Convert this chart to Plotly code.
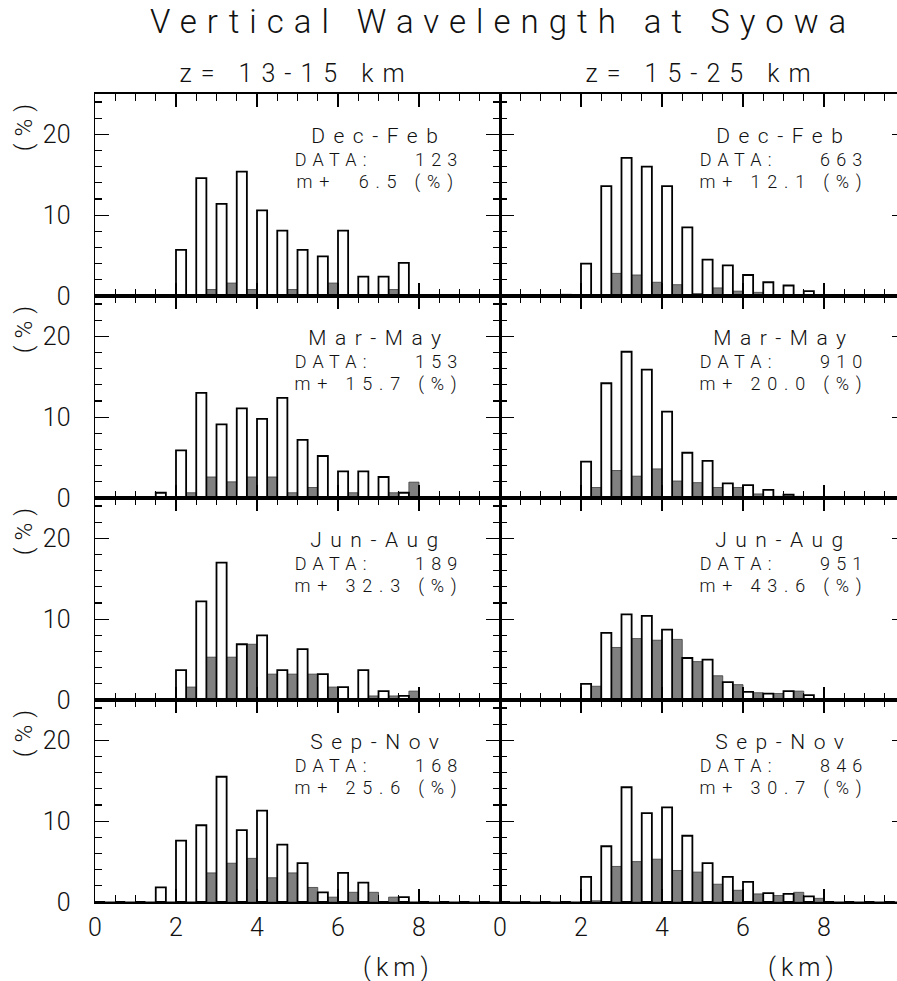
import json
import plotly.graph_objects as go

# ---------------- data ----------------
bin_starts = [0.5 * k for k in range(20)]          # km, bin width 0.5 km
seasons = ["Dec-Feb", "Mar-May", "Jun-Aug", "Sep-Nov"]
column_titles = ["z= 13-15 km", "z= 15-25 km"]
x_tick_vals = [0, 2, 4, 6, 8]
y_tick_vals = [0, 10, 20]

low_counts = [123, 153, 189, 168]
low_mplus_pct = [6.5, 15.7, 32.3, 25.6]
high_counts = [663, 910, 951, 846]
high_mplus_pct = [12.1, 20.0, 43.6, 30.7]

# percentage of profiles per 0.5-km bin (white = all, gray = m+)
lo_djf_all = [0, 0, 0, 0, 5.7, 14.6, 11.4, 15.4, 10.6, 8.1, 5.7, 4.9, 8.1, 2.4, 2.4, 4.1, 0, 0, 0, 0]
lo_djf_mp = [0, 0, 0, 0, 0, 0.8, 1.6, 0.8, 0, 0.8, 0, 1.6, 0, 0, 0.8, 0, 0, 0, 0, 0]
hi_djf_all = [0, 0, 0, 0.15, 4.0, 13.6, 17.1, 16.0, 13.6, 8.5, 4.5, 3.8, 2.6, 1.7, 1.3, 0.6, 0, 0, 0, 0]
hi_djf_mp = [0, 0, 0, 0, 0.15, 2.8, 2.6, 1.7, 1.4, 0.3, 1.0, 0.6, 0.45, 0.1, 0, 0, 0, 0, 0, 0]
lo_mam_all = [0, 0, 0, 0.65, 5.9, 13.0, 9.1, 11.1, 9.8, 12.4, 7.2, 5.2, 3.3, 3.3, 2.6, 0.65, 0, 0, 0, 0]
lo_mam_mp = [0, 0, 0, 0, 0.65, 2.6, 2.0, 2.6, 2.6, 0.65, 1.3, 0, 0.65, 0, 0.65, 1.96, 0, 0, 0, 0]
hi_mam_all = [0, 0, 0, 0.1, 4.5, 14.2, 18.1, 15.9, 10.7, 5.6, 4.6, 1.8, 1.6, 1.0, 0.4, 0.1, 0, 0, 0, 0]
hi_mam_mp = [0, 0, 0, 0, 1.3, 3.4, 2.7, 3.6, 2.1, 1.9, 1.3, 1.3, 0.5, 0.2, 0.2, 0.1, 0, 0, 0, 0]
lo_jja_all = [0, 0, 0, 0, 3.7, 12.2, 17.0, 6.9, 8.0, 3.7, 6.3, 3.2, 1.6, 3.7, 1.1, 0.5, 0, 0, 0, 0]
lo_jja_mp = [0, 0, 0, 0, 1.6, 5.3, 5.3, 6.9, 3.2, 3.2, 3.2, 1.6, 0, 0.5, 0.5, 1.1, 0, 0, 0, 0]
hi_jja_all = [0, 0, 0, 0.1, 2.0, 8.3, 10.6, 10.4, 8.7, 5.2, 5.0, 2.2, 1.0, 0.8, 1.1, 0.6, 0, 0, 0, 0]
hi_jja_mp = [0, 0, 0, 0, 1.7, 6.5, 7.6, 7.4, 7.5, 4.75, 3.0, 1.9, 0.9, 0.8, 1.1, 0.15, 0, 0, 0, 0]
lo_son_all = [0, 0, 0, 1.8, 7.6, 9.5, 15.5, 8.9, 11.3, 7.1, 4.8, 1.2, 3.6, 2.4, 0, 0.6, 0, 0, 0, 0]
lo_son_mp = [0, 0, 0, 0, 0, 3.6, 4.8, 5.4, 3.0, 3.6, 1.8, 0.6, 1.2, 1.2, 0.6, 0, 0, 0, 0, 0]
hi_son_all = [0, 0, 0, 0, 3.1, 6.9, 14.2, 11.0, 11.7, 8.2, 4.8, 3.1, 2.5, 1.1, 1.0, 0.7, 0, 0, 0, 0]
hi_son_mp = [0, 0, 0, 0, 0.15, 4.4, 5.0, 5.3, 3.9, 3.7, 2.2, 1.45, 1.0, 0.8, 1.2, 0.45, 0, 0, 0, 0]

low_all = [lo_djf_all, lo_mam_all, lo_jja_all, lo_son_all]
low_mp = [lo_djf_mp, lo_mam_mp, lo_jja_mp, lo_son_mp]
high_all = [hi_djf_all, hi_mam_all, hi_jja_all, hi_son_all]
high_mp = [hi_djf_mp, hi_mam_mp, hi_jja_mp, hi_son_mp]

# ---------------- layout geometry ----------------
W, H = 897, 981
ML, MT, BOT = 95, 94, 902          # plot area (page pixels, body margin removed)
MB = H - BOT
MR = 0
PW = W - ML - MR
PH = H - MT - MB
left_px = 405.0                       # 0..10 km in the left column
x_split = left_px / PW
right_max = (PW - left_px) / (left_px / 10.0)


def px_x(xabs):
    return (xabs - ML) / PW


def px_y(yabs):
    return (BOT - yabs) / PH


FONT = "Roboto"
FW = 300
TXT = "#111111"

fig = go.Figure()
layout = dict(
    width=W, height=H, autosize=False,
    margin=dict(l=ML, r=MR, t=MT, b=MB),
    paper_bgcolor="white", plot_bgcolor="white",
    barmode="overlay", showlegend=False,
    font=dict(family=FONT, size=25, color=TXT, weight=FW),
)
annotations = []
spacing = []


def add_ann(sp, **kw):
    annotations.append(kw)
    spacing.append(sp)


for r in range(4):
    for c in range(2):
        n = r * 2 + c + 1
        xa = "x" if n == 1 else f"x{n}"
        ya = "y" if n == 1 else f"y{n}"
        allv = (low_all if c == 0 else high_all)[r]
        mpv = (low_mp if c == 0 else high_mp)[r]
        fig.add_trace(go.Bar(
            x=bin_starts, y=mpv, width=0.25, offset=0.25,
            marker=dict(color="#808080", line=dict(color="#3c3c3c", width=0.8)),
            xaxis=xa, yaxis=ya, hoverinfo="skip"))
        fig.add_trace(go.Bar(
            x=bin_starts, y=allv, width=0.25, offset=0.0,
            marker=dict(color="white", line=dict(color="black", width=1.8)),
            xaxis=xa, yaxis=ya, hoverinfo="skip"))

        xdom = [0, x_split] if c == 0 else [x_split, 1.0]
        ydom = [(3 - r) / 4.0, (4 - r) / 4.0]
        layout[f"xaxis{'' if n == 1 else n}"] = dict(
            domain=xdom, anchor=ya,
            range=[0, 10] if c == 0 else [0, right_max],
            tickmode="array", tickvals=x_tick_vals,
            ticktext=[str(v) for v in x_tick_vals],
            ticks="inside", ticklen=13, tickwidth=1.2, tickcolor="black",
            minor=dict(tickmode="linear", tick0=0, dtick=0.5, ticks="inside",
                       ticklen=7, tickwidth=1.2, tickcolor="black"),
            showline=True, linewidth=2, linecolor="black", mirror="ticks",
            showgrid=False, zeroline=False,
            showticklabels=(r == 3), ticklabelstandoff=2,
            tickfont=dict(family=FONT, size=25, color=TXT, weight=FW),
            fixedrange=True,
        )
        layout[f"yaxis{'' if n == 1 else n}"] = dict(
            domain=ydom, anchor=xa, range=[0, 25],
            tickmode="array", tickvals=y_tick_vals,
            ticktext=[str(v) for v in y_tick_vals],
            ticks="inside", ticklen=14, tickwidth=1.2, tickcolor="black",
            minor=dict(tickmode="linear", tick0=0, dtick=2, ticks="inside",
                       ticklen=7, tickwidth=1.2, tickcolor="black"),
            showline=True, linewidth=1.5, linecolor="black",
            mirror="ticks" if c == 0 else False,
            showgrid=False, zeroline=False,
            showticklabels=(c == 0), ticklabelstandoff=18,
            tickfont=dict(family=FONT, size=25, color=TXT, weight=FW),
            fixedrange=True,
        )
        if c == 1:
            # stubs of the right-hand frame ticks that fall just inside the page edge
            ny = n + 8
            fig.add_trace(go.Scatter(x=[], y=[], xaxis=xa, yaxis=f"y{ny}",
                                     hoverinfo="skip", showlegend=False))
            layout[f"yaxis{ny}"] = dict(
                overlaying=ya, side="right", anchor=xa, range=[0, 25],
                tickmode="array", tickvals=[10, 20], ticks="inside", ticklen=5,
                tickwidth=1.2, tickcolor="black", showline=False,
                showgrid=False, zeroline=False, showticklabels=False,
                fixedrange=True,
            )

        cnt = (low_counts if c == 0 else high_counts)[r]
        mpp = (low_mplus_pct if c == 0 else high_mplus_pct)[r]
        mp_txt = f"{mpp:4.1f}".replace(" ", "\u00a0")
        add_ann(8.5, text=seasons[r], x=7.0, y=19.75, xref=xa, yref=ya,
                xanchor="center", yanchor="middle", showarrow=False,
                font=dict(family=FONT, size=21, color=TXT, weight=FW))
        add_ann(6.2, text="DATA:\u00a0\u00a0\u00a0\u00a0" + str(cnt), x=7.0, y=16.9,
                xref=xa, yref=ya, xanchor="center", yanchor="middle", showarrow=False,
                font=dict(family=FONT, size=18, color=TXT, weight=FW))
        add_ann(6.8, text="m+\u00a0" + mp_txt + "\u00a0(%)", x=7.0, y=14.1,
                xref=xa, yref=ya, xanchor="center", yanchor="middle", showarrow=False,
                font=dict(family=FONT, size=18, color=TXT, weight=FW))
        if c == 0:
            add_ann(7, text="(%)", x=px_x(24), y=21.2, xref="paper", yref=ya,
                    textangle=-90, xanchor="center", yanchor="middle", showarrow=False,
                    font=dict(family=FONT, size=24, color=TXT, weight=FW))
        if r == 3:
            add_ann(5, text="(km)", x=7.5, y=px_y(967), xref=xa, yref="paper",
                    xanchor="center", yanchor="middle", showarrow=False,
                    font=dict(family=FONT, size=25, color=TXT, weight=FW))

add_ann(10, text="Vertical Wavelength at Syowa", x=px_x(503), y=px_y(21.5),
        xref="paper", yref="paper", xanchor="center", yanchor="middle", showarrow=False,
        font=dict(family=FONT, size=33, color=TXT, weight=FW))
for c, cx in enumerate([296, 702]):
    add_ann(9, text=column_titles[c], x=px_x(cx), y=px_y(73),
            xref="paper", yref="paper", xanchor="center", yanchor="middle",
            showarrow=False, font=dict(family=FONT, size=25, color=TXT, weight=FW))

layout["annotations"] = annotations
fig.update_layout(**layout)

post = """
document.body.style.margin = '0';
document.body.style.padding = '0';
var gd = document.getElementById('{plot_id}');
var sp = SPACING;
gd.querySelectorAll('g.annotation').forEach(function(g){
  var i = parseInt(g.getAttribute('data-index'));
  var t = g.querySelector('text.annotation-text');
  if (t && !isNaN(i) && sp[i] !== undefined) { t.style.letterSpacing = sp[i] + 'px'; }
});
""".replace("SPACING", json.dumps(spacing))
fig.write_html("out.html", post_script=post, config={"staticPlot": True})
